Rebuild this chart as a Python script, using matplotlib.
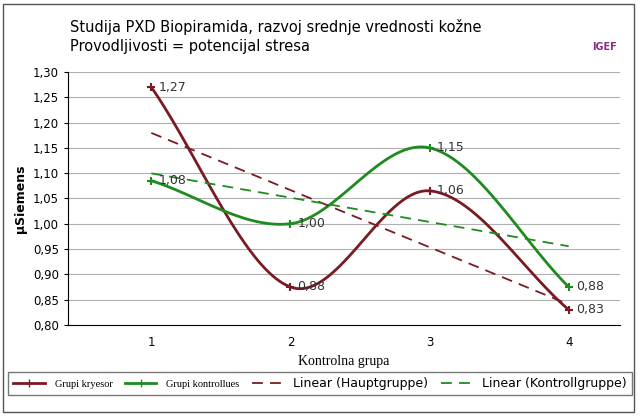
import numpy as np
import matplotlib
matplotlib.use("Agg")
import matplotlib.pyplot as plt
from matplotlib.lines import Line2D

x = [1, 2, 3, 4]
glavna = [1.27, 0.875, 1.065, 0.83]
kontrol = [1.085, 1.00, 1.15, 0.875]
labels_main = ["1,27", "0,88", "1,06", "0,83"]
labels_ctrl = ["1,08", "1,00", "1,15", "0,88"]
yticks = [0.80, 0.85, 0.90, 0.95, 1.00, 1.05, 1.10, 1.15, 1.20, 1.25, 1.30]

def smooth(xs, ys, n=40):
    # Catmull-Rom rendering of the series (Excel "smoothed line")
    xs = np.array(xs, float); ys = np.array(ys, float)
    P = np.column_stack([xs, ys])
    P = np.vstack([2*P[0]-P[1], P, 2*P[-1]-P[-2]])
    out = []
    t = np.linspace(0, 1, n)[:, None]
    for i in range(1, len(P)-2):
        p0, p1, p2, p3 = P[i-1], P[i], P[i+1], P[i+2]
        seg = 0.5*((2*p1) + (-p0+p2)*t + (2*p0-5*p1+4*p2-p3)*t**2 + (-p0+3*p1-3*p2+p3)*t**3)
        out.append(seg)
    s = np.vstack(out)
    return s[:, 0], s[:, 1]

brown = "#7a1a22"
green = "#1f8a1f"

fig = plt.figure(figsize=(6.4, 4.16), dpi=100)
ax = fig.add_axes([0.106, 0.219, 0.863, 0.608])
for yv in yticks:
    ax.axhline(yv, color="#b0b0b0", lw=0.8, zorder=0)

sx, sy = smooth(x, glavna)
ax.plot(sx, sy, color=brown, lw=2)
ax.plot(x, glavna, "+", color=brown, ms=6, mew=1.5)
sx, sy = smooth(x, kontrol)
ax.plot(sx, sy, color=green, lw=2)
ax.plot(x, kontrol, "+", color=green, ms=6, mew=1.5)

xa = np.array(x, float)
for ys, c in [(glavna, brown), (kontrol, green)]:
    k, b = np.polyfit(xa, ys, 1)
    ax.plot(xa, k*xa + b, "--", color=c, lw=1.3, dashes=(6, 4))

for xi, yi, lb in zip(x, glavna, labels_main):
    ax.text(xi + 0.05, yi, lb, fontsize=9, va="center", color="#333333")
for xi, yi, lb in zip(x, kontrol, labels_ctrl):
    ax.text(xi + 0.05, yi, lb, fontsize=9, va="center", color="#333333")

ax.set_xlim(0.4, 4.37)
ax.set_ylim(0.80, 1.30)
ax.set_xticks(x)
ax.set_yticks(yticks)
ax.set_yticklabels([f"{v:.2f}".replace(".", ",") for v in yticks], fontsize=8.5)
ax.tick_params(axis="x", labelsize=8.5, length=0, pad=8)
ax.tick_params(axis="y", length=3)
for s in ["top", "right"]:
    ax.spines[s].set_visible(False)
ax.set_ylabel("µSiemens", fontsize=9, fontweight="bold")
ax.set_xlabel("Kontrolna grupa", fontsize=10, family="Liberation Serif", labelpad=4)

fig.text(0.11, 0.922, "Studija PXD Biopiramida, razvoj srednje vrednosti kožne", fontsize=10.5)
fig.text(0.11, 0.878, "Provodljivosti = potencijal stresa", fontsize=10.5)
fig.text(0.945, 0.88, "IGEF", fontsize=7, color="#8a2c8a", fontweight="bold", ha="center")

fig.add_artist(plt.Rectangle((0.005, 0.01), 0.985, 0.98, fill=False, ec="#555555", lw=1, transform=fig.transFigure))

handles = [Line2D([], [], color=brown, lw=2, marker="+", ms=6),
           Line2D([], [], color=green, lw=2, marker="+", ms=6),
           Line2D([], [], color=brown, lw=1.3, ls="--", dashes=(6, 4)),
           Line2D([], [], color=green, lw=1.3, ls="--", dashes=(6, 4))]
leg = fig.legend(handles, ["Grupi kryesor", "Grupi kontrollues", "Linear (Hauptgruppe)", "Linear (Kontrollgruppe)"],
                 loc="lower center", bbox_to_anchor=(0.5, 0.035), ncol=4, fontsize=9, frameon=True,
                 fancybox=False, edgecolor="#555555", columnspacing=1.0, handlelength=2.5)
for t in leg.get_texts()[:2]:
    t.set_family("Liberation Serif"); t.set_fontsize(7.5)
fig.savefig("out.png", dpi=100)
